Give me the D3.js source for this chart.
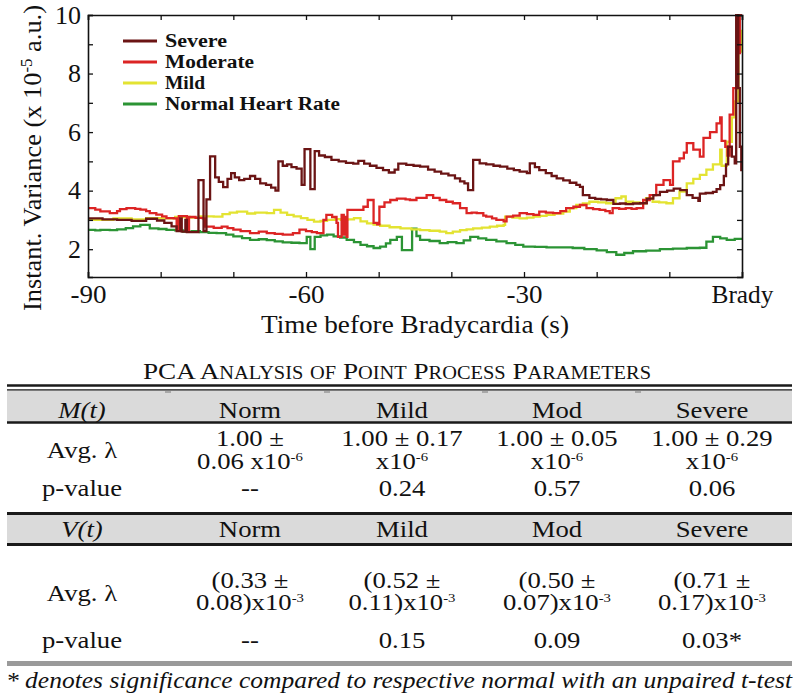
<!DOCTYPE html>
<html><head><meta charset="utf-8">
<script src="https://cdn.jsdelivr.net/npm/d3@7"></script>
<style>body{margin:0;background:#fff}svg{display:block}</style>
</head><body><svg id="c" width="800" height="694"></svg>
<script>
// ---------------- DATA ----------------
const seriesNames = ["Severe", "Moderate", "Mild", "Normal Heart Rate"];

const severeT = [-90,-88,-86,-84,-82,-80.5,-79.5,-78.5,-77.8,-77.3,-77.1,-76.6,-76.4,-74.8,-74.1,-73.7,-73.2,-72.5,-72.0,-71.4,-70.8,-70.3,-69.8,-69.2,-68.5,-67.7,-67,-66.3,-65.5,-64.8,-64.2,-63.8,-63.2,-62.6,-62.0,-61.3,-60.6,-60.2,-59.4,-58.8,-58.2,-57.4,-56.5,-55.5,-54.5,-53.5,-52.8,-52.0,-51.2,-50.3,-49.4,-48.6,-47.8,-47.3,-46.2,-45.2,-44.3,-43.2,-42.3,-41.4,-40.4,-39.5,-38.8,-38.2,-37.7,-37.0,-36.1,-35.2,-34.2,-33.3,-32.3,-31.4,-30.6,-29.6,-29.2,-28.5,-27.9,-27.0,-26.2,-25.5,-24.6,-23.7,-22.8,-22.3,-21.9,-21.0,-20.2,-19.4,-18.6,-17.7,-16.8,-16.0,-15.0,-14.0,-13.1,-12.2,-11.3,-10.3,-9.4,-8.5,-7.6,-6.8,-6.0,-5.8,-5.0,-4.0,-3.5,-3.0,-2.5,-2.2,-1.9,-1.4,-1.0,-0.8,-0.5,-0.3,-0.1,0];
const severeV = [3.05,3.02,3.0,2.97,3.04,2.98,2.9,2.78,2.62,3.05,2.6,3.0,2.58,4.36,2.62,3.7,5.17,4.45,4.3,4.12,4.4,4.6,4.45,4.36,4.4,4.5,4.4,4.25,4.2,4.1,4.0,5.0,4.85,4.9,4.8,4.75,4.2,5.42,4.05,5.35,5.2,5.15,5.05,5.0,4.95,4.92,5.02,4.92,4.85,4.78,4.7,4.62,4.72,4.92,4.88,4.85,4.82,4.72,4.65,4.58,4.52,4.42,4.32,4.25,4.02,5.05,4.93,4.9,4.85,4.82,4.75,4.7,4.65,4.6,4.93,4.8,4.7,4.6,4.5,4.42,4.35,4.27,4.2,4.13,3.85,3.75,3.72,3.7,3.68,3.55,3.56,3.54,3.56,3.57,3.73,3.85,3.96,4.0,4.07,4.02,3.85,3.75,3.65,3.9,3.92,3.96,4.05,4.19,4.5,4.9,5.5,5.16,4.93,10.0,7.5,5.5,4.7,4.7];

const moderateT = [-90,-89,-88.3,-87,-86,-85.6,-84.7,-83.5,-82.8,-82,-81.5,-80.6,-79.8,-79.2,-78.2,-77.8,-77.5,-76.8,-76.4,-76.1,-75.2,-74.2,-73.9,-72.7,-71.6,-70.8,-70,-69,-67.7,-66.5,-65.4,-64.3,-63.2,-61.8,-60.9,-60,-59.2,-58.5,-57.8,-57.6,-57.2,-56.4,-55.8,-55.6,-55.1,-54.8,-54.6,-54.4,-54.3,-53.5,-52.1,-51.5,-51.0,-50.7,-50.2,-49.9,-49.2,-48.4,-47.5,-47,-46.3,-45.7,-44.8,-43.4,-42.5,-41.6,-40.7,-39.8,-38.8,-37.9,-37.2,-36.5,-35.6,-35.2,-34.4,-33.8,-32.8,-32.4,-31.5,-30.6,-29.6,-28.7,-27.9,-27,-26,-25,-24.2,-23.2,-22.3,-21.4,-20.5,-19.6,-18.8,-18.2,-17.8,-16.9,-16,-15.2,-14.5,-13.6,-12.7,-11.8,-10.8,-9.9,-9.5,-8.6,-8.0,-7.6,-6.7,-5.8,-5.3,-4.4,-3.5,-3.0,-2.8,-2.3,-2.0,-1.7,-1.2,-0.7,-0.3,0];
const moderateV = [3.4,3.35,3.29,3.23,3.3,3.37,3.4,3.38,3.35,3.3,3.23,3.18,3.12,3.06,3.05,2.66,3.13,3.13,2.66,3.1,3.07,3.05,2.77,2.73,2.77,2.72,2.67,2.62,2.55,2.6,2.55,2.52,2.5,2.55,2.67,2.62,2.58,2.55,2.55,3.0,3.17,3.1,2.9,2.42,3.17,2.5,3.1,2.42,3.34,3.34,3.45,3.68,3.68,2.9,2.85,3.45,3.6,3.68,3.73,3.73,3.7,3.68,3.75,3.85,3.75,3.68,3.62,3.57,3.4,3.23,3.25,3.23,3.15,3.11,3.05,3.0,2.95,3.11,3.15,3.23,3.2,3.17,3.28,3.25,3.23,3.3,3.4,3.45,3.51,3.4,3.37,3.34,3.3,3.23,3.4,3.38,3.4,3.38,3.4,3.68,3.85,4.2,4.36,4.2,5.0,5.1,5.3,5.62,5.4,5.16,5.8,6.0,6.3,6.5,5.7,5.5,5.2,6.6,7.5,8.7,10.0,10.0];

const mildT = [-90,-88,-86.5,-84,-82,-80,-78,-76,-74.6,-72.7,-71.5,-70.5,-69.5,-68.1,-67,-65.4,-64.4,-63.5,-62.6,-61.7,-60.7,-59.8,-58.9,-58,-57.1,-56,-55.2,-54.3,-53.4,-52.5,-51.6,-50.7,-49.8,-48.5,-47,-45.5,-44.3,-43,-41.6,-40.7,-39.8,-38.8,-37.9,-37,-35.8,-34.7,-33.7,-32.8,-32.6,-31.6,-30.6,-29.6,-28.7,-27.8,-26.9,-25.8,-24.6,-23.7,-22.8,-21.9,-21,-19.8,-18.7,-17.4,-16.6,-16,-15,-14.1,-13.2,-12.3,-11.4,-10.4,-9.5,-8.6,-7.6,-6.7,-5.8,-4.9,-4.0,-3.0,-2.8,-2.1,-1.4,-1.0,-0.5,0];
const mildV = [3.0,3.0,3.05,3.02,3.06,3.05,3.1,3.08,3.12,3.11,3.2,3.25,3.28,3.22,3.25,3.23,3.34,3.25,3.17,3.12,3.06,3.0,2.94,2.97,3.0,3.03,3.0,3.02,3.06,2.95,2.88,2.84,2.8,2.75,2.71,2.68,2.65,2.63,2.6,2.55,2.6,2.65,2.68,2.71,2.74,2.77,2.8,2.83,3.11,3.08,3.05,3.08,3.11,3.14,3.17,3.22,3.28,3.4,3.51,3.56,3.62,3.6,3.57,3.74,3.8,3.62,3.6,3.57,3.74,3.62,3.6,3.57,3.74,3.97,4.25,4.4,4.54,4.72,4.9,5.4,4.85,5.67,6.5,7.05,8.75,9.5];

const normalT = [-90,-89,-88.3,-87,-86,-84.8,-83.8,-82.8,-81.5,-80.3,-79.2,-78,-76.9,-75.7,-74.6,-73.4,-72.3,-71,-70,-68.8,-67.7,-66.5,-65.4,-64.3,-63.2,-62,-60.9,-59.9,-59.4,-58.8,-58,-57.1,-56.2,-55.3,-54.4,-53.4,-52.5,-51.6,-50.7,-49.8,-49,-48.4,-47.5,-46.8,-45.4,-44.8,-44.3,-43,-41.6,-40.5,-39.3,-38.3,-37.4,-36.3,-35.2,-33.8,-32.4,-31.2,-30.1,-28.5,-26.9,-25,-23.3,-21.7,-20,-18.6,-17.3,-16.2,-15,-13.2,-11.3,-9.5,-7.6,-5.8,-4.9,-4.0,-3.0,-2.1,-1,0];
const normalV = [2.66,2.64,2.66,2.65,2.68,2.72,2.78,2.83,2.71,2.69,2.66,2.64,2.6,2.62,2.58,2.56,2.55,2.5,2.44,2.38,2.32,2.34,2.31,2.27,2.23,2.22,2.21,2.42,2.0,2.42,2.47,2.5,2.44,2.4,2.32,2.24,2.15,2.1,2.04,2.09,2.2,2.32,2.42,1.97,2.7,2.45,2.32,2.28,2.21,2.24,2.21,2.3,2.42,2.37,2.32,2.27,2.21,2.15,2.09,2.08,2.06,2.06,2.04,2.0,1.96,1.9,1.81,1.87,1.93,1.95,2.0,2.02,2.04,2.05,2.26,2.42,2.37,2.32,2.35,2.37];

const xTicks = [-90,-80,-70,-60,-50,-40,-30,-20,-10,0];
const xLabelValues = [-90,-60,-30,0];
const xLabelTexts = ["-90","-60","-30","Brady"];
const yTicks = [2,3,4,5,6,7,8,9,10];
const yLabelValues = [2,4,6,8,10];

const tableTitle = "PCA Analysis of Point Process Parameters";
const tableCols = ["Norm","Mild","Mod","Severe"];
const mHeader = "M(t)";
const vHeader = "V(t)";
const rowAvg = "Avg. λ";
const rowP = "p-value";
const mAvgLine1 = ["1.00 ±","1.00 ± 0.17","1.00 ± 0.05","1.00 ± 0.29"];
const mAvgLine2 = ["0.06 x10^-6","x10^-6","x10^-6","x10^-6"];
const mP = ["--","0.24","0.57","0.06"];
const vAvgLine1 = ["(0.33 ±","(0.52 ±","(0.50 ±","(0.71 ±"];
const vAvgLine2 = ["0.08)x10^-3","0.11)x10^-3","0.07)x10^-3","0.17)x10^-3"];
const vP = ["--","0.15","0.09","0.03*"];
const footnote = "* denotes significance compared to respective normal with an unpaired t-test";

// ---------------- FONT PICK ----------------
const ctx = document.createElement("canvas").getContext("2d");
const sample = "Time before Bradycardia 0123456789 ABCDEFG";
function wOf(f) { ctx.font = `40px ${f}`; return ctx.measureText(sample).width; }
const wMono = wOf("monospace"), wDV = wOf('"DejaVu Serif", monospace');
function realFont(name) {
  const a = wOf(`"${name}", monospace`);
  return Math.abs(a - wMono) > 0.5 && Math.abs(a - wDV) > 0.5;
}
const timesLike = ["Liberation Serif", "Tinos", "Nimbus Roman", "Nimbus Roman No9 L", "FreeSerif", "Times New Roman"].find(realFont);
const picked = timesLike || (realFont("DejaVu Serif Condensed") ? "DejaVu Serif Condensed" : "DejaVu Serif");
const serif = `"${picked}", serif`;
function measure(str, size, extra) {
  ctx.font = `${extra || ""} ${size}px ${serif}`; return ctx.measureText(str).width;
}

// ---------------- CHART ----------------
const colors = ["#6b1414","#dc2424","#e3e332","#2b9434"];
const svg = d3.select("#c");
const L = 88, R = 742, T = 15, B = 277;
const x = d3.scaleLinear().domain([-90, 0]).range([L, R]);
const y = d3.scaleLinear().domain([1.05, 10]).range([B, T]);

const series = [
  {name: seriesNames[0], t: severeT, v: severeV, c: colors[0]},
  {name: seriesNames[1], t: moderateT, v: moderateV, c: colors[1]},
  {name: seriesNames[2], t: mildT, v: mildV, c: colors[2]},
  {name: seriesNames[3], t: normalT, v: normalV, c: colors[3]}
];

svg.append("defs").append("clipPath").attr("id","clip")
  .append("rect").attr("x", L).attr("y", T - 1).attr("width", R - L).attr("height", B - T + 1);

const line = d3.line().curve(d3.curveStepAfter).x(d => x(d[0])).y(d => y(d[1]));
const drawOrder = [3, 2, 1, 0];
const gl = svg.append("g").attr("clip-path","url(#clip)");
drawOrder.forEach(i => {
  const s = series[i];
  gl.append("path").datum(s.t.map((t, k) => [t, s.v[k]]))
    .attr("d", line).attr("fill","none").attr("stroke", s.c)
    .attr("stroke-width", 2.3).attr("stroke-linejoin","miter");
});

function fitText(sel, w) {
  sel.attr("textLength", w).attr("lengthAdjust", "spacingAndGlyphs");
  return sel;
}

// axes
const fmtX = d => { const k = xLabelValues.indexOf(d); return k >= 0 ? xLabelTexts[k] : ""; };
const fmtY = d => yLabelValues.includes(d) ? String(d) : "";
const axB = svg.append("g").attr("transform",`translate(0,${B})`)
  .call(d3.axisBottom(x).tickValues(xTicks).tickSize(-5).tickPadding(8).tickFormat(fmtX));
const axT = svg.append("g").attr("transform",`translate(0,${T})`)
  .call(d3.axisTop(x).tickValues(xTicks).tickSize(-5).tickFormat(""));
const axL = svg.append("g").attr("transform",`translate(${L},0)`)
  .call(d3.axisLeft(y).tickValues(yTicks).tickSize(-5).tickPadding(7).tickFormat(fmtY));
const axR = svg.append("g").attr("transform",`translate(${R},0)`)
  .call(d3.axisRight(y).tickValues(yTicks).tickSize(-5).tickFormat(""));
[axB, axT, axL, axR].forEach(a => {
  a.select(".domain").attr("stroke","#111").attr("stroke-width",1.6);
  a.selectAll(".tick line").attr("stroke","#111").attr("stroke-width",1.3);
  a.selectAll("text").attr("font-family", serif).attr("font-size", 25).attr("fill","#111");
});
axB.selectAll(".tick text").each(function() {
  const t = d3.select(this); const s = t.text();
  if (s === "Brady") fitText(t, 62); else if (s) fitText(t, 36);
});
axL.selectAll(".tick text").each(function() {
  const t = d3.select(this); const s = t.text();
  if (s) fitText(t, s.length * 13);
});

// axis titles
fitText(svg.append("text").attr("x", 415).attr("y", 333).attr("text-anchor","middle")
  .attr("font-family", serif).attr("font-size", 26).attr("fill","#111")
  .text("Time before Bradycardia (s)"), 308);
const yt = svg.append("text").attr("transform","translate(41,158) rotate(-90)")
  .attr("text-anchor","middle").attr("font-family", serif).attr("font-size", 25).attr("fill","#111");
yt.append("tspan").text("Instant. Variance (x 10");
yt.append("tspan").attr("dy", -9).attr("font-size", 16).text("-5");
yt.append("tspan").attr("dy", 9).text(" a.u.)");
fitText(yt, 306);

// legend
const legendW = [62, 89, 40, 175];
const lg = svg.append("g");
series.forEach((s, i) => {
  const ly = 41 + i * 21;
  lg.append("line").attr("x1", 123).attr("x2", 157).attr("y1", ly).attr("y2", ly)
    .attr("stroke", s.c).attr("stroke-width", 3);
  fitText(lg.append("text").attr("x", 165).attr("y", ly + 6).attr("font-family", serif)
    .attr("font-weight","bold").attr("font-size", 18).attr("fill","#111").text(s.name), legendW[i]);
});

// ---------------- TABLE ----------------
const TL = 7, TR = 792;
const colX = [82, 250, 402, 557, 712];
const tg = svg.append("g");
const FS = timesLike ? 23.5 : 22;
// horizontal scale so that the chosen font matches the reference text widths
const refStr = ["1.00 ± 0.17", "p-value", "Severe", "Norm", "Avg. λ"];
const refW = [127, 80, 74, 56, 70];
const SX = d3.sum(refW) / d3.sum(refStr, s => measure(s, FS));

function cellText(cx, by, str, opts = {}) {
  const t = tg.append("text").attr("transform", `translate(${cx},${by}) scale(${SX},1)`)
    .attr("text-anchor","middle").attr("font-family", serif)
    .attr("font-size", FS).attr("fill","#111");
  if (opts.italic) t.attr("font-style","italic");
  const parts = str.split("^");
  t.append("tspan").text(parts[0]);
  if (parts.length > 1) t.append("tspan").attr("dy", -8).attr("font-size", 13).text(parts[1]);
  return t;
}

// title in small caps (original capitals large, other letters small capitals)
const tt = tg.append("text").attr("x", 397).attr("y", 379).attr("text-anchor","middle")
  .attr("font-family", serif).attr("fill","#111");
Array.from(tableTitle).forEach(ch => {
  const big = ch === " " || ch !== ch.toLowerCase();
  tt.append("tspan").attr("font-size", big ? 24 : 18).text(ch.toUpperCase());
});
fitText(tt, 508);

function hline(yy, w, col) {
  tg.append("line").attr("x1", TL).attr("x2", TR).attr("y1", yy).attr("y2", yy)
    .attr("stroke", col || "#1a1a1a").attr("stroke-width", w);
}
tg.append("rect").attr("x", TL).attr("y", 390).attr("width", TR - TL).attr("height", 32).attr("fill","#dadada");
tg.append("rect").attr("x", TL).attr("y", 515).attr("width", TR - TL).attr("height", 28).attr("fill","#dadada");
hline(385.5, 2.6); hline(389.8, 1.3); hline(422.5, 2.6);
hline(513.5, 3); hline(544.5, 3);
hline(663.5, 5, "#9a9a9a");
[168, 327, 485, 638].forEach(xx => tg.append("line").attr("x1", xx - 3).attr("x2", xx + 3)
  .attr("y1", 392).attr("y2", 392).attr("stroke","#888").attr("stroke-width",1.2));

// M(t) block
cellText(colX[0], 418, mHeader, {italic: true});
tableCols.forEach((c, i) => cellText(colX[i + 1], 418, c));
cellText(colX[0], 458, rowAvg);
mAvgLine1.forEach((c, i) => cellText(colX[i + 1], 446, c));
mAvgLine2.forEach((c, i) => cellText(colX[i + 1], 469, c));
cellText(colX[0], 496, rowP);
mP.forEach((c, i) => cellText(colX[i + 1], 496, c));

// V(t) block
cellText(colX[0], 537, vHeader, {italic: true});
tableCols.forEach((c, i) => cellText(colX[i + 1], 537, c));
cellText(colX[0], 601, rowAvg);
vAvgLine1.forEach((c, i) => cellText(colX[i + 1], 588, c));
vAvgLine2.forEach((c, i) => cellText(colX[i + 1], 610, c));
cellText(colX[0], 648, rowP);
vP.forEach((c, i) => cellText(colX[i + 1], 648, c));

fitText(tg.append("text").attr("x", 399).attr("y", 688).attr("text-anchor","middle")
  .attr("font-family", serif).attr("font-style","italic").attr("font-size", 23).attr("fill","#111")
  .text(footnote), 786);
</script></body></html>
